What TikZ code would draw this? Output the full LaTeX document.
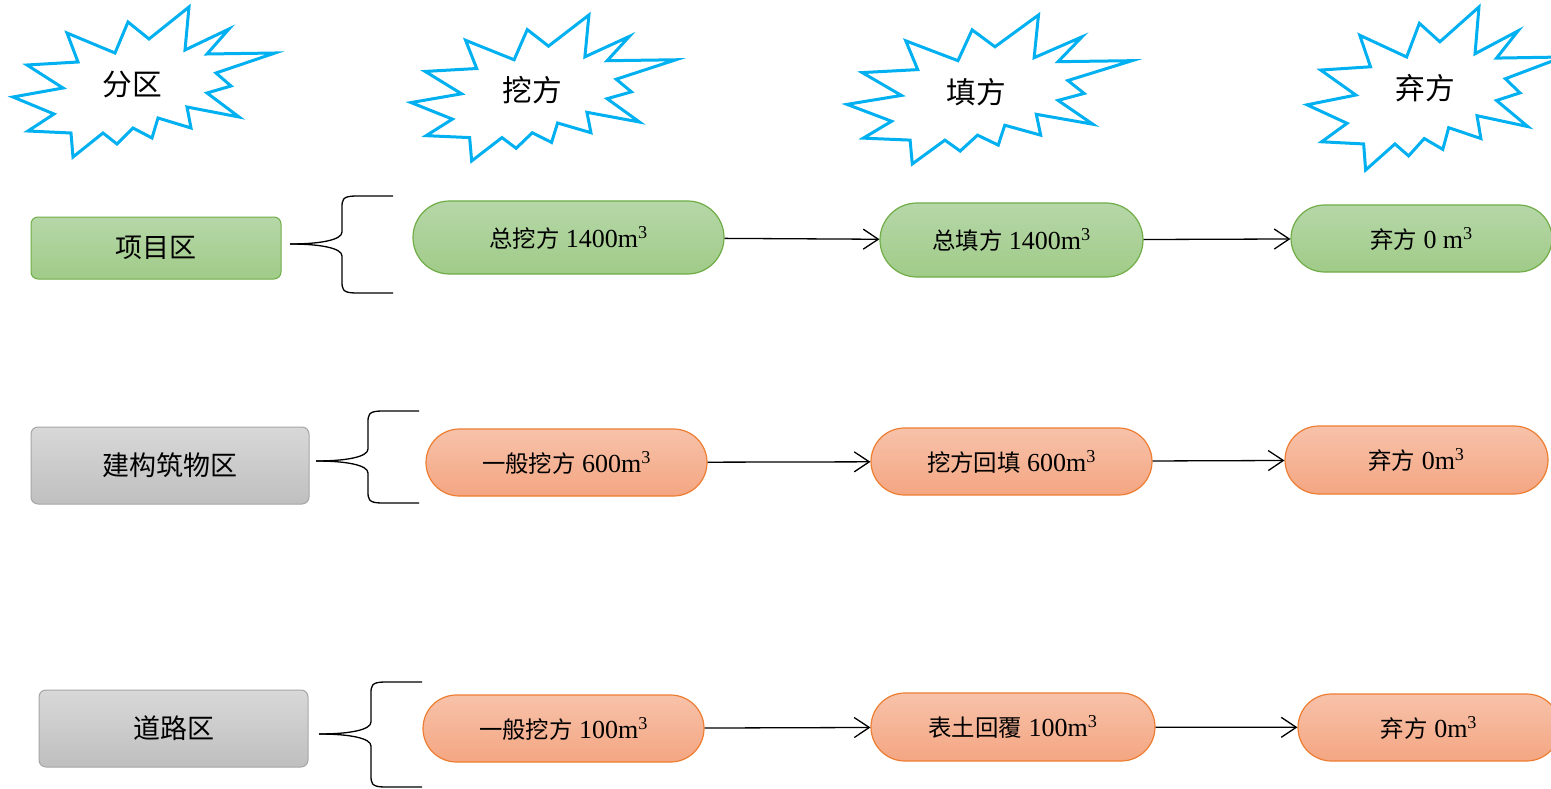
\documentclass[tikz,border=0pt]{standalone}
\usepackage{fontspec}
\setmainfont{Liberation Serif}
\newfontfamily\cjk{Noto Sans CJK SC}[Scale=0.9]
\usetikzlibrary{shapes.misc,arrows.meta}

\definecolor{burstblue}{HTML}{00B0F0}
\definecolor{greenedge}{HTML}{70AD47}
\definecolor{greentop}{HTML}{B6D7A8}
\definecolor{greenbot}{HTML}{A0CB88}
\definecolor{orangeedge}{HTML}{ED7D31}
\definecolor{orangetop}{HTML}{F7C2AA}
\definecolor{orangebot}{HTML}{F4A682}
\definecolor{grayedge}{HTML}{A6A6A6}
\definecolor{graytop}{HTML}{D8D8D8}
\definecolor{graybot}{HTML}{BFBFBF}

\tikzset{
  burst/.pic={
    \draw[burstblue, line width=3pt, line join=miter, fill=white]
      (176,0) -- (172,43) -- (216,22) -- (194,47) -- (262,46) -- (203,66)
      -- (218,79) -- (194,86) -- (226,110) -- (174,100) -- (178,121)
      -- (145,111) -- (139,131) -- (120,121) -- (104,137) -- (90,126)
      -- (60,150) -- (58,126) -- (15,124) -- (41,107) -- (0,90) -- (50,81)
      -- (14,58) -- (65,55) -- (54,26) -- (102,46) -- (115,15) -- (136,32)
      -- cycle;
  },
  headtext/.style={font=\fontsize{33}{36}\selectfont\cjk},
  zonebox/.style={rectangle, rounded corners=7pt, line width=1pt, inner sep=0pt,
    font=\fontsize{30}{34}\selectfont\cjk},
  greenzone/.style={zonebox, draw=greenedge, top color=greentop, bottom color=greenbot},
  grayzone/.style={zonebox, draw=grayedge, top color=graytop, bottom color=graybot},
  pill/.style={rounded rectangle, line width=1.2pt, inner sep=0pt,
    font=\fontsize{26}{30}\selectfont},
  greenpill/.style={pill, draw=greenedge, top color=greentop, bottom color=greenbot},
  orangepill/.style={pill, draw=orangeedge, top color=orangetop, bottom color=orangebot},
  flow/.style={-{Straight Barb[length=15pt,width=20pt]}, line width=1.3pt},
  bracestyle/.style={line width=1.3pt},
}

% curly brace opening to the right: #1 tip, #2 upper arm, #3 lower arm
\newcommand{\curlybrace}[3]{%
  \draw[bracestyle] (#1) .. controls +(30,0) and +(0,8) .. ++(52,-12)
    -- ++(0,{-(#2)+24}) .. controls +(0,-8) and +(-14,0) .. ++(14,-12) -- ++(37,0);
  \draw[bracestyle] (#1) .. controls +(30,0) and +(0,-8) .. ++(52,12)
    -- ++(0,{(#3)-24}) .. controls +(0,8) and +(-14,0) .. ++(14,12) -- ++(37,0);
}

\begin{document}
\begin{tikzpicture}[x=1pt, y=-1pt]
\useasboundingbox (0,0) rectangle (1551,789);
\fill[white] (0,0) rectangle (1551,789);
\clip (0,0) rectangle (1551,789);

% column headers
\pic at (13,7) {burst};
\pic[xscale=1.011, yscale=0.973] at (411,15) {burst};
\pic[xscale=1.088, yscale=0.993] at (847,15) {burst};
\pic[xscale=0.977, yscale=1.087] at (1307,7) {burst};
\node[headtext] (h1) at (132,85) {分区};
\node[headtext] (h2) at (532,90) {挖方};
\node[headtext] (h3) at (976,92) {填方};
\node[headtext] (h4) at (1425,88) {弃方};

% zones
\node[greenzone, minimum width=250pt, minimum height=62pt] (z1) at (156,248) {项目区};
\node[grayzone, minimum width=278pt, minimum height=77pt] (z2) at (170,465.5) {建构筑物区};
\node[grayzone, minimum width=269pt, minimum height=77pt] (z3) at (173.5,728.5) {道路区};

% braces
\coordinate (t1) at (290,244);
\coordinate (t2) at (316,461);
\coordinate (t3) at (319,734);
\curlybrace{t1}{48}{49}
\curlybrace{t2}{50}{42}
\curlybrace{t3}{52}{53}

% row 1
\node[greenpill, minimum width=311pt, minimum height=73pt] (a1) at (568.5,237.5)
  {{\cjk 总挖方} 1400m\textsuperscript{3}};
\node[greenpill, minimum width=263pt, minimum height=74pt] (b1) at (1011.5,240)
  {{\cjk 总填方} 1400m\textsuperscript{3}};
\node[greenpill, minimum width=261pt, minimum height=67pt] (c1) at (1421.5,238.5)
  {{\cjk 弃方} 0 m\textsuperscript{3}};

% row 2
\node[orangepill, minimum width=281pt, minimum height=67pt] (a2) at (566.5,462.5)
  {{\cjk 一般挖方} 600m\textsuperscript{3}};
\node[orangepill, minimum width=281pt, minimum height=67pt] (b2) at (1011.5,461.5)
  {{\cjk 挖方回填} 600m\textsuperscript{3}};
\node[orangepill, minimum width=263pt, minimum height=68pt] (c2) at (1416.5,460)
  {{\cjk 弃方} 0m\textsuperscript{3}};

% row 3
\node[orangepill, minimum width=281pt, minimum height=67pt] (a3) at (563.5,728.5)
  {{\cjk 一般挖方} 100m\textsuperscript{3}};
\node[orangepill, minimum width=284pt, minimum height=68pt] (b3) at (1013,727)
  {{\cjk 表土回覆} 100m\textsuperscript{3}};
\node[orangepill, minimum width=262pt, minimum height=67pt] (c3) at (1429,727.5)
  {{\cjk 弃方} 0m\textsuperscript{3}};

% flows
\draw[flow] (a1) -- (b1);
\draw[flow] (b1) -- (c1);
\draw[flow] (a2) -- (b2);
\draw[flow] (b2) -- (c2);
\draw[flow] (a3) -- (b3);
\draw[flow] (b3) -- (c3);
\end{tikzpicture}
\end{document}
